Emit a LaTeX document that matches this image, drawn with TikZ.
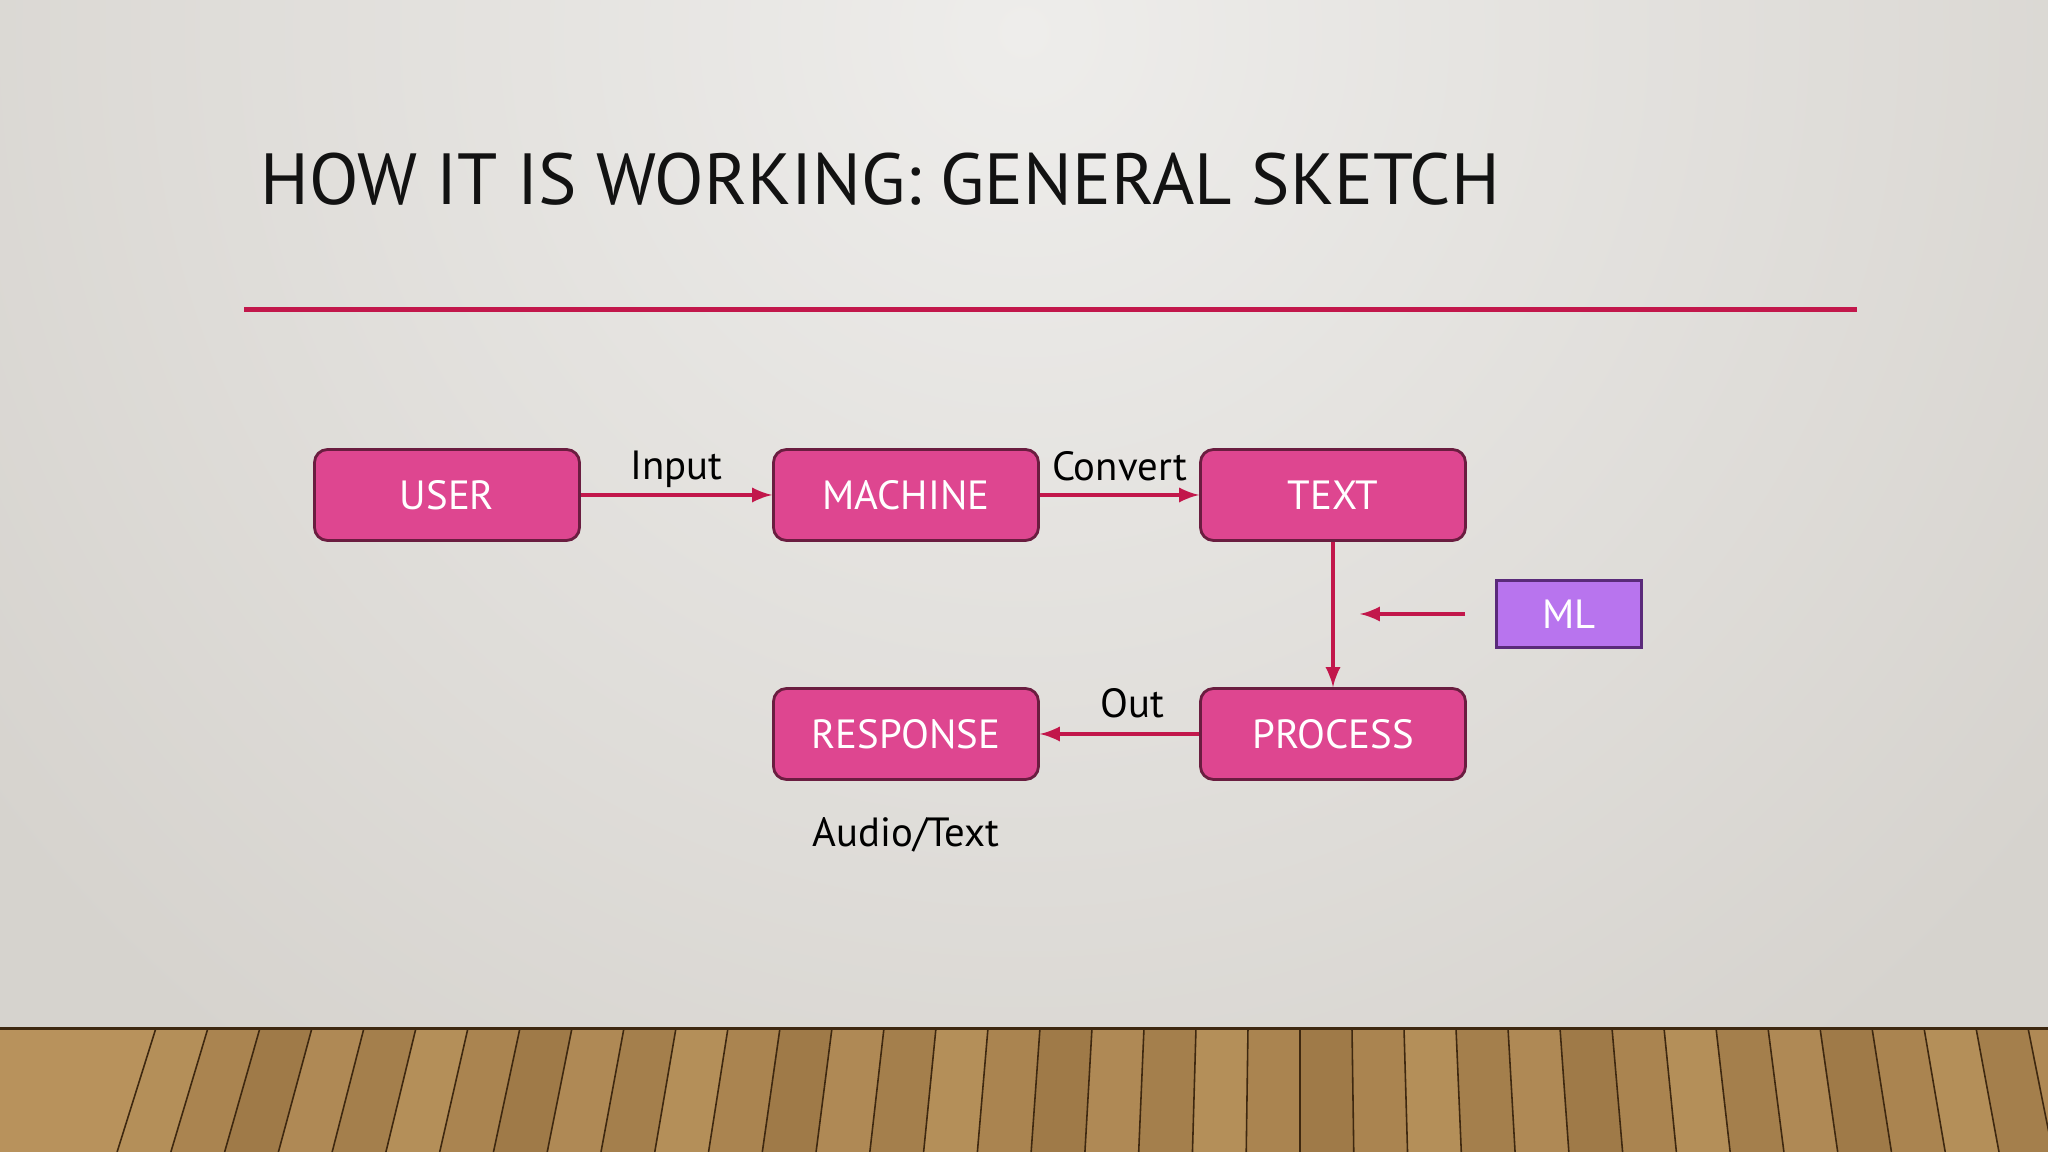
\documentclass[tikz,border=0pt]{standalone}
\usepackage{fontspec}
\setmainfont{PT Sans}
\usetikzlibrary{positioning}
\usetikzlibrary{arrows}
\definecolor{boxpink}{HTML}{DE4690}
\definecolor{boxedge}{HTML}{6A1D40}
\definecolor{linkred}{HTML}{C2174B}
\definecolor{mlfill}{HTML}{B874EE}
\definecolor{mledge}{HTML}{5A2A7A}
\definecolor{wallin}{HTML}{EEEDEB}
\definecolor{wallout}{HTML}{D6D3CE}
\definecolor{woodA}{HTML}{B8925C}
\definecolor{woodB}{HTML}{94703F}
\definecolor{woodline}{HTML}{3E2810}
\tikzset{
	block/.style={
		draw=boxedge,
		line width=0.8pt,
		fill=boxpink,
		rounded corners=1.3mm,
		minimum width=2.65cm,
		minimum height=0.91cm,
		inner sep=0pt,
		text=white,
		font=\fontsize{11.6}{13}\selectfont},
	mlbox/.style={
		draw=mledge,
		line width=0.9pt,
		fill=mlfill,
		minimum width=1.45cm,
		minimum height=0.67cm,
		inner sep=0pt,
		text=white,
		font=\fontsize{11.6}{13}\selectfont},
	tag/.style={
		text=black,
		font=\fontsize{11.6}{13}\selectfont},
	link/.style={
		draw=linkred,
		line width=0.95pt,
		->, >=latex}
}

\begin{document}
\begin{tikzpicture}
	\useasboundingbox (0,0) rectangle (20.48,11.52);
	% wall
	\fill[wallout] (0,1.24) rectangle (20.48,11.52);
	\begin{scope}
		\clip (0,1.24) rectangle (20.48,11.52);
		\shade[inner color=wallin, outer color=wallout] (10.24,11.2) circle (13);
	\end{scope}
	% floor
	\fill[woodA] (0,0) rectangle (20.48,1.24);
	\begin{scope}
		\clip (0,0) rectangle (20.48,1.24);
		\foreach \i in {-22,...,21} {
			\pgfmathsetmacro{\xa}{13.0+\i*0.52}
			\pgfmathsetmacro{\xb}{\xa+0.52}
			\pgfmathsetmacro{\p}{int(30+mod(abs(\i)*37,5)*15)}
			\fill[woodA!\p!woodB] (\xa,1.24) -- (\xb,1.24)
				-- ({\xb+(\xb-13.0)*0.034},0) -- ({\xa+(\xa-13.0)*0.034},0) -- cycle;
			\draw[woodline, line width=0.45pt] (\xa,1.24) -- ({\xa+(\xa-13.0)*0.034},0);
		}
	\end{scope}
	\fill[woodline] (0,1.22) rectangle (20.48,1.25);
	% title
	\node[anchor=base west, inner sep=0pt, text=black!93,
		font=\fontsize{20.6}{24}\selectfont] (title) at (2.60,9.47)
		{HOW IT IS WORKING: GENERAL SKETCH};
	\draw[linkred, line width=1.4pt] (2.44,8.425) -- (18.57,8.425);
	% blocks
	\node[block] (user) at (4.47,6.57) {USER};
	\node[block] (machine) at (9.06,6.57) {MACHINE};
	\node[block] (text) at (13.33,6.57) {TEXT};
	\node[block] (process) at (13.33,4.18) {PROCESS};
	\node[block] (response) at (9.06,4.18) {RESPONSE};
	\node[mlbox] (ml) at (15.69,5.38) {ML};
	\node[tag, below=2.4mm of response] (medium) {Audio/Text};
	\coordinate (mlstart) at (14.65,5.38);
	\coordinate (mlend) at (13.60,5.38);
	% links
	\draw[link] (user) -- node[tag, above, inner sep=0.6mm] {Input} (machine);
	\draw[link] (machine) -- node[tag, above, inner sep=1.2mm] {Convert} (text);
	\draw[link] (text) -- (process);
	\draw[link] (process) -- node[tag, above, inner sep=1.4mm, pos=0.42] {Out} (response);
	\draw[link] (mlstart) -- (mlend);
\end{tikzpicture}
\end{document}
